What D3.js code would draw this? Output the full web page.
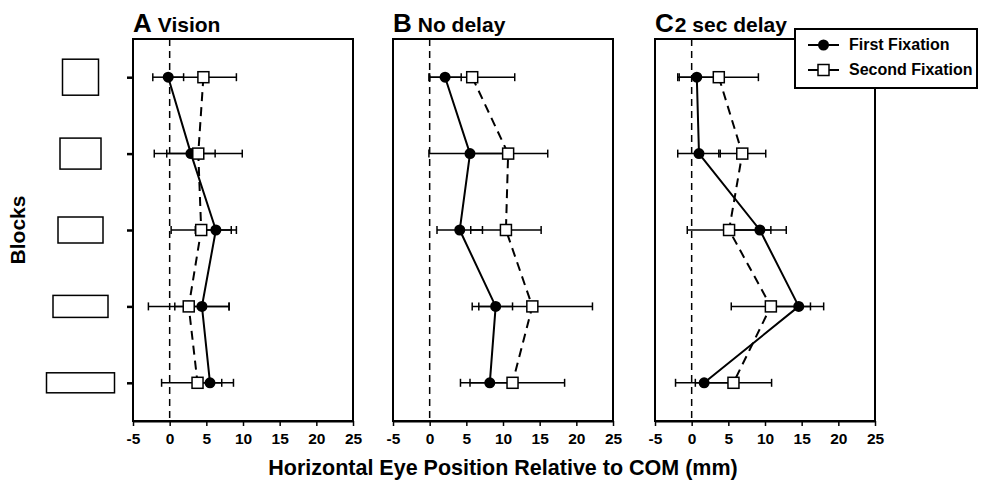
<!DOCTYPE html>
<html>
<head>
<meta charset="utf-8">
<script src="https://cdn.jsdelivr.net/npm/d3@7"></script>
<style>
  body { margin: 0; background: #fff; }
  text { font-family: "Liberation Sans", Arial, sans-serif; font-weight: bold; fill: #000; }
</style>
</head>
<body>
<div id="chart"></div>
<script>
// blocks, top to bottom
const blocks = [1, 2, 3, 4, 5];
const panelLetters = ["A", "B", "C"];
const panelNames = ["Vision", "No delay", "2 sec delay"];
const xTicks = [-5, 0, 5, 10, 15, 20, 25];

// first fixation mean and error, per panel
const firstMean = [
    [-0.2, 2.9, 6.3, 4.4, 5.5],
    [2.1, 5.5, 4.1, 9.0, 8.2],
    [0.7, 1.0, 9.3, 14.6, 1.7]
];
const firstErr = [
    [2.1, 3.3, 2.8, 3.7, 1.6],
    [2.2, 5.6, 3.1, 2.3, 2.7],
    [2.6, 2.9, 3.6, 3.4, 3.9]
];
// second fixation
const secondMean = [
    [4.6, 3.9, 4.3, 2.6, 3.8],
    [5.8, 10.7, 10.4, 14.0, 11.3],
    [3.7, 6.9, 5.1, 10.8, 5.7]
];
const secondErr = [
    [4.5, 6.0, 4.1, 5.5, 4.9],
    [5.8, 5.4, 4.8, 8.2, 7.1],
    [5.4, 3.2, 5.7, 5.4, 5.2]
];

const width = 981, height = 481;
const svg = d3.select("#chart").append("svg")
    .attr("width", width)
    .attr("height", height);

const plotTop = 39, plotBottom = 421;
const panelLeft = [133, 393, 655];
const panelW = 220;

const y = d3.scaleLinear().domain([0.5, 5.5]).range([plotTop, plotBottom]);

// block icons drawn next to the first panel
const blockW = [36, 41, 45, 55, 68];
const blockH = [36, 31, 26, 22, 20];
svg.append("g").selectAll("rect")
    .data(blocks)
    .enter().append("rect")
        .attr("x", (d, i) => 80.5 - blockW[i] / 2)
        .attr("y", (d, i) => y(d) - blockH[i] / 2)
        .attr("width", (d, i) => blockW[i])
        .attr("height", (d, i) => blockH[i])
        .attr("fill", "none")
        .attr("stroke", "#000")
        .attr("stroke-width", 1.5);

svg.append("text")
    .attr("transform", `translate(25, ${(plotTop + plotBottom) / 2}) rotate(-90)`)
    .attr("text-anchor", "middle")
    .style("font-size", "21px")
    .text("Blocks");

panelLetters.forEach(function(letter, p) {
    const x = d3.scaleLinear().domain([-5, 25]).range([panelLeft[p], panelLeft[p] + panelW]);
    const g = svg.append("g");

    // frame
    g.append("rect")
        .attr("x", x(-5)).attr("y", plotTop)
        .attr("width", panelW).attr("height", plotBottom - plotTop)
        .attr("fill", "none").attr("stroke", "#000").attr("stroke-width", 2);

    // x axis
    const xAxis = g.append("g")
        .attr("transform", `translate(0, ${plotBottom})`)
        .call(d3.axisBottom(x).tickValues(xTicks).tickSize(5).tickSizeOuter(0).tickFormat(d => String(d)));
    xAxis.select(".domain").attr("stroke-width", 2);
    xAxis.selectAll(".tick line").attr("stroke-width", 1.5);
    xAxis.selectAll(".tick text")
        .attr("y", 12)
        .style("font-size", "15.5px");

    if (p === 0) {
        const yAxis = g.append("g")
            .attr("transform", `translate(${x(-5)}, 0)`)
            .call(d3.axisLeft(y).tickValues(blocks).tickSize(6).tickSizeOuter(0).tickFormat(""));
        yAxis.select(".domain").remove();
        yAxis.selectAll(".tick line").attr("stroke-width", 2.5);
    }

    // title
    const title = g.append("text")
        .attr("x", x(-5))
        .attr("y", 32);
    title.append("tspan").style("font-size", "26px").text(letter);
    title.append("tspan").style("font-size", "21px").attr("dx", p === 2 ? 1 : 6).text(panelNames[p]);

    // zero line
    g.append("line")
        .attr("x1", x(0)).attr("x2", x(0))
        .attr("y1", plotTop).attr("y2", plotBottom)
        .attr("stroke", "#000").attr("stroke-width", 1.5)
        .attr("stroke-dasharray", "7,5");

    const line = d3.line()
        .x(d => x(d.v))
        .y(d => y(d.b));

    const first = blocks.map((b, i) => ({ b: b, v: firstMean[p][i], e: firstErr[p][i] }));
    const second = blocks.map((b, i) => ({ b: b, v: secondMean[p][i], e: secondErr[p][i] }));

    g.append("path").datum(second)
        .attr("d", line).attr("fill", "none")
        .attr("stroke", "#000").attr("stroke-width", 2)
        .attr("stroke-dasharray", "9,6");
    g.append("path").datum(first)
        .attr("d", line).attr("fill", "none")
        .attr("stroke", "#000").attr("stroke-width", 2);

    [first, second].forEach(function(series) {
        const eb = g.append("g").selectAll("g")
            .data(series)
            .enter().append("g")
            .attr("stroke", "#000").attr("stroke-width", 1.5);
        eb.append("line")
            .attr("x1", d => x(d.v - d.e)).attr("x2", d => x(d.v + d.e))
            .attr("y1", d => y(d.b)).attr("y2", d => y(d.b));
        eb.append("line")
            .attr("x1", d => x(d.v - d.e)).attr("x2", d => x(d.v - d.e))
            .attr("y1", d => y(d.b) - 4).attr("y2", d => y(d.b) + 4);
        eb.append("line")
            .attr("x1", d => x(d.v + d.e)).attr("x2", d => x(d.v + d.e))
            .attr("y1", d => y(d.b) - 4).attr("y2", d => y(d.b) + 4);
    });

    g.append("g").selectAll("circle")
        .data(first)
        .enter().append("circle")
            .attr("cx", d => x(d.v)).attr("cy", d => y(d.b))
            .attr("r", 5.5).attr("fill", "#000");

    g.append("g").selectAll("rect")
        .data(second)
        .enter().append("rect")
            .attr("x", d => x(d.v) - 5.5).attr("y", d => y(d.b) - 5.5)
            .attr("width", 11).attr("height", 11)
            .attr("fill", "#fff").attr("stroke", "#000").attr("stroke-width", 1.5);
});

svg.append("text")
    .attr("x", 503)
    .attr("y", 475)
    .attr("text-anchor", "middle")
    .style("font-size", "21.5px")
    .text("Horizontal Eye Position Relative to COM (mm)");

// legend
const legend = svg.append("g").attr("transform", "translate(795, 29)");
legend.append("rect")
    .attr("width", 182).attr("height", 59)
    .attr("fill", "#fff").attr("stroke", "#000").attr("stroke-width", 2);
const legendItems = ["First Fixation", "Second Fixation"];
legendItems.forEach(function(name, i) {
    const ly = 16 + i * 25;
    legend.append("line")
        .attr("x1", 13).attr("x2", 44).attr("y1", ly).attr("y2", ly)
        .attr("stroke", "#000").attr("stroke-width", 2);
    if (i === 0) {
        legend.append("circle").attr("cx", 28.5).attr("cy", ly).attr("r", 5.5).attr("fill", "#000");
    } else {
        legend.append("rect").attr("x", 23).attr("y", ly - 5.5).attr("width", 11).attr("height", 11)
            .attr("fill", "#fff").attr("stroke", "#000").attr("stroke-width", 1.5);
    }
    legend.append("text")
        .attr("x", 54).attr("y", ly + 5)
        .style("font-size", "16px")
        .text(name);
});
</script>
</body>
</html>
